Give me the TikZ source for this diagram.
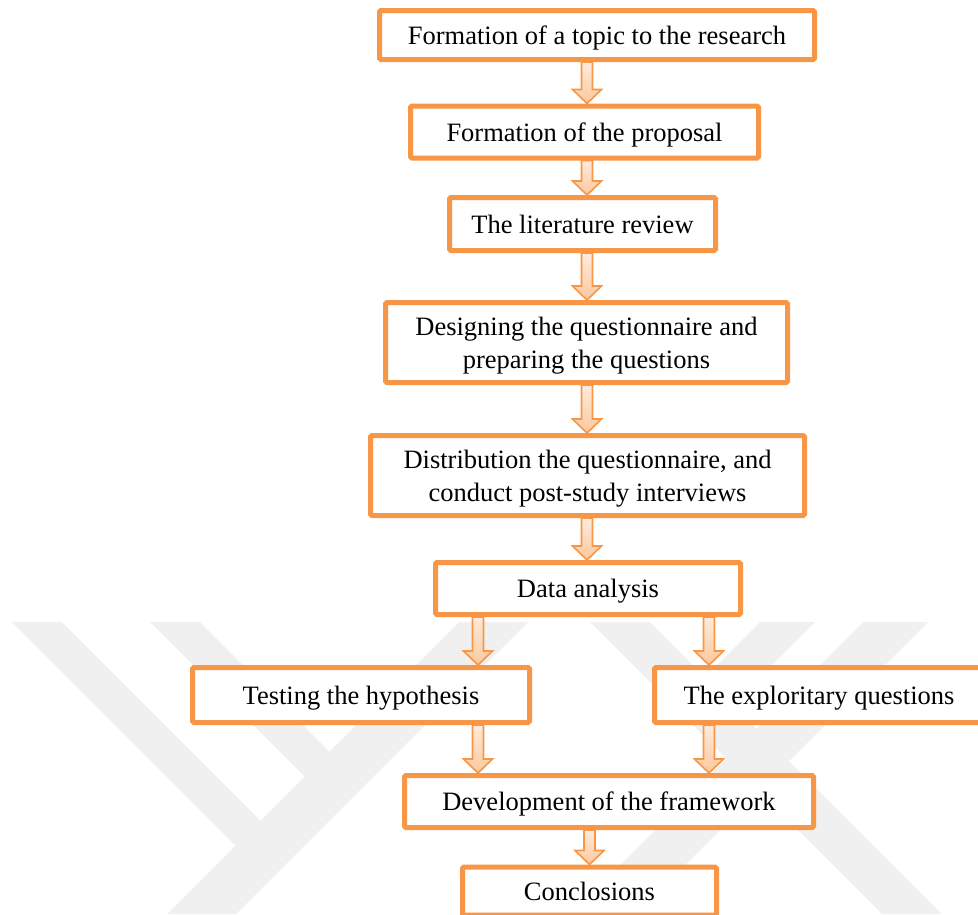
\documentclass[tikz,border=0pt]{standalone}
\usepackage{fontspec}
\setmainfont{Liberation Serif}
\usetikzlibrary{calc}

\definecolor{boxorange}{HTML}{F79646}
\definecolor{arrowlight}{HTML}{FDEBDD}
\definecolor{arrowdark}{HTML}{FBC89C}
\definecolor{markgray}{HTML}{F0F0F0}

\tikzset{
  stage/.style={draw=boxorange, line width=5pt, fill=white, rounded corners=1.5pt,
    align=center, inner sep=0pt, text depth=-1pt, font=\fontsize{26.5}{33}\selectfont},
  flowarrow/.style={draw=boxorange, line width=1.6pt, line join=miter,
    top color=arrowlight, bottom color=arrowdark},
  watermark/.style={fill=markgray, draw=none}
}
% block arrow from #1 (top of shaft) down to #2 (tip)
\newcommand\blockarrow[2]{%
  \path[flowarrow] let \p1=#1, \p2=#2 in
    (\x1-5.5pt,\y1) -- (\x1-5.5pt,\y2+14pt) -- (\x1-14.5pt,\y2+14pt) -- (\x1,\y2)
    -- (\x1+14.5pt,\y2+14pt) -- (\x1+5.5pt,\y2+14pt) -- (\x1+5.5pt,\y1) -- cycle;}

\begin{document}
\begin{tikzpicture}[x=1pt,y=-1pt]
\useasboundingbox (0,0) rectangle (978,914);
%----------faint mark in the background--------
\fill[watermark] (12,622) -- (62,622) -- (290,850) -- (240,850) -- cycle;
\fill[watermark] (150,622) -- (200,622) -- (358,780) -- (308,780) -- cycle;
\fill[watermark] (459,622) -- (528,622) -- (236,914) -- (167,914) -- cycle;
\fill[watermark] (590,622) -- (650,622) -- (942,914) -- (882,914) -- cycle;
\fill[watermark] (863,622) -- (928,622) -- (636,914) -- (571,914) -- cycle;
\fill[watermark] (760,622) -- (815,622) -- (722,715) -- (667,715) -- cycle;
%----------stages------------------------------
\node[stage, minimum width=435, minimum height=49] (topic) at (597,35) {Formation of a topic to the research};
\node[stage, minimum width=348, minimum height=52] (proposal) at (584.5,132) {Formation of the proposal};
\node[stage, minimum width=266, minimum height=53] (review) at (582.5,224) {The literature review};
\node[stage, minimum width=402, minimum height=80] (design) at (586.5,342.5) {Designing the questionnaire and\\preparing the questions};
\node[stage, minimum width=434, minimum height=80] (distrib) at (587.5,475.5) {Distribution the questionnaire, and\\conduct post-study interviews};
\node[stage, minimum width=305, minimum height=52] (analysis) at (588,588.5) {Data analysis};
\node[stage, minimum width=337, minimum height=55] (hypo) at (361,695) {Testing the hypothesis};
\node[stage, minimum width=329, minimum height=55] (explor) at (819,695) {The exploritary questions};
\node[stage, minimum width=409, minimum height=52] (frame) at (609,801.5) {Development of the framework};
\node[stage, minimum width=254, minimum height=48] (concl) at (589.5,891) {Conclosions};
%----------arrows------------------------------
\coordinate (col) at (587,0);
\coordinate (lcol) at (478,0);
\coordinate (rcol) at (709,0);
\blockarrow{(topic.south -| col)}{(proposal.north -| col)}
\blockarrow{(proposal.south -| col)}{(review.north -| col)}
\blockarrow{(review.south -| col)}{(design.north -| col)}
\blockarrow{(design.south -| col)}{(distrib.north -| col)}
\blockarrow{(distrib.south -| col)}{(analysis.north -| col)}
\blockarrow{(analysis.south -| lcol)}{(hypo.north -| lcol)}
\blockarrow{(analysis.south -| rcol)}{(explor.north -| rcol)}
\blockarrow{(hypo.south -| lcol)}{(frame.north -| lcol)}
\blockarrow{(explor.south -| rcol)}{(frame.north -| rcol)}
\blockarrow{(frame.south -| concl.north)}{(concl.north)}
\end{tikzpicture}
\end{document}
